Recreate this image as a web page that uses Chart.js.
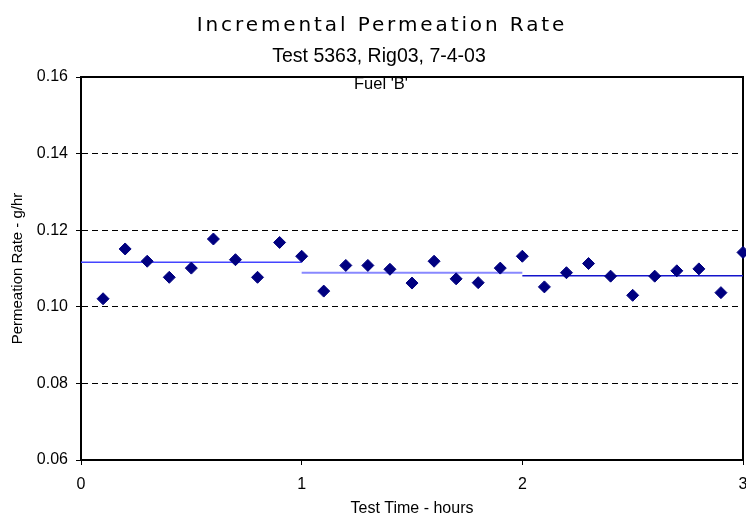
<!DOCTYPE html>
<html>
<head>
<meta charset="utf-8">
<script src="https://cdn.jsdelivr.net/npm/chart.js@4/dist/chart.umd.min.js"></script>
<style>
  body { margin: 0; background: #fff; }
  #wrap { width: 746px; height: 517px; position: relative; }
</style>
</head>
<body>
<div id="wrap"><canvas id="permChart"></canvas></div>
<script>
// readings, one every 0.1 h
const times = [0.1, 0.2, 0.3, 0.4, 0.5, 0.6, 0.7, 0.8, 0.9, 1.0,
               1.1, 1.2, 1.3, 1.4, 1.5, 1.6, 1.7, 1.8, 1.9, 2.0,
               2.1, 2.2, 2.3, 2.4, 2.5, 2.6, 2.7, 2.8, 2.9, 3.0];
const rates = [0.1021, 0.1151, 0.1119, 0.1077, 0.1101, 0.1177, 0.1123, 0.1077, 0.1168, 0.1132,
               0.1041, 0.1108, 0.1108, 0.1098, 0.1062, 0.1119, 0.1073, 0.1063, 0.1101, 0.1132,
               0.1052, 0.1089, 0.1113, 0.1080, 0.1030, 0.1080, 0.1094, 0.1099, 0.1037, 0.1142];

// hourly averages
const segStart = [0, 1, 2];
const segEnd = [1, 2, 3];
const segMean = [0.1116, 0.1089, 0.1081];

const yTicks = [0.06, 0.08, 0.10, 0.12, 0.14, 0.16];
const xTicks = [0, 1, 2, 3];

const titleText = "Incremental Permeation Rate";
const subText = "Test 5363, Rig03, 7-4-03";
const noteText = "Fuel 'B'";

const segColors = ["#4444ff", "#8888ff", "#1414cc"];
const segWidths = [1.5, 2, 1.5];

Chart.defaults.font.family = '"Liberation Sans", Arial, sans-serif';
Chart.defaults.color = "#000";

const datasets = [{
  label: "Rate",
  data: times.map((t, i) => ({ x: t, y: rates[i] })),
  pointStyle: "rectRot",
  pointRadius: 6,
  pointHoverRadius: 6,
  backgroundColor: "#000080",
  borderColor: "#000080",
  borderWidth: 1,
  clip: false,
  order: 0
}];

segMean.forEach((m, i) => {
  datasets.push({
    label: "avg" + i,
    data: [{ x: segStart[i], y: m }, { x: segEnd[i], y: m }],
    showLine: true,
    pointRadius: 0,
    borderColor: segColors[i],
    borderWidth: segWidths[i],
    order: 1
  });
});

// frame + header texts
const frame = {
  id: "frame",
  beforeDatasetsDraw(chart) {
    const { ctx, chartArea: a } = chart;
    ctx.save();
    ctx.strokeStyle = "#000";
    ctx.lineWidth = 2;
    ctx.strokeRect(a.left, a.top, a.right - a.left, a.bottom - a.top);
    ctx.restore();
  },
  afterDraw(chart) {
    const ctx = chart.ctx;
    ctx.save();
    ctx.fillStyle = "#000";
    ctx.textAlign = "center";
    ctx.textBaseline = "alphabetic";
    ctx.font = '20px "DejaVu Sans"';
    ctx.letterSpacing = "2.9px";
    ctx.fillText(titleText, 382, 31);
    ctx.letterSpacing = "0px";
    ctx.font = '19.5px "Liberation Sans", Arial';
    ctx.fillText(subText, 379, 62);
    ctx.font = '16.5px "Liberation Sans", Arial';
    ctx.fillText(noteText, 381, 89);
    ctx.restore();
  }
};

new Chart(document.getElementById("permChart"), {
  type: "scatter",
  data: { datasets },
  options: {
    responsive: true,
    maintainAspectRatio: false,
    animation: false,
    layout: { autoPadding: false, padding: { top: 77, right: 3, left: 0, bottom: 0 } },
    plugins: {
      legend: { display: false },
      tooltip: { enabled: false }
    },
    scales: {
      x: {
        type: "linear",
        min: xTicks[0],
        max: xTicks[xTicks.length - 1],
        afterBuildTicks: s => { s.ticks = xTicks.map(v => ({ value: v })); },
        afterFit: s => { s.height = 57; s.paddingLeft = 0; s.paddingRight = 0; },
        grid: { drawOnChartArea: false, drawTicks: true, tickLength: 5, tickColor: "#000", tickWidth: 1 },
        border: { color: "#000", width: 2 },
        ticks: { font: { size: 16 }, padding: 10, maxRotation: 0 },
        title: {
          display: true,
          text: "Test Time - hours",
          font: { size: 16, lineHeight: 1 },
          padding: { top: 0, bottom: 0 }
        }
      },
      y: {
        min: yTicks[0],
        max: yTicks[yTicks.length - 1],
        afterBuildTicks: s => { s.ticks = yTicks.map(v => ({ value: v })); },
        afterFit: s => { s.width = 81; s.paddingTop = 0; s.paddingBottom = 0; },
        grid: { color: "#000", lineWidth: 1, tickLength: 5, tickColor: "#000", tickBorderDash: [] },
        border: { color: "#000", width: 2, dash: [6, 4] },
        ticks: { font: { size: 16 }, padding: 8, callback: v => v.toFixed(2) },
        title: {
          display: true,
          text: "Permeation Rate - g/hr",
          font: { size: 15 },
          padding: { top: 9, bottom: 0 }
        }
      }
    }
  },
  plugins: [frame]
});
</script>
</body>
</html>
